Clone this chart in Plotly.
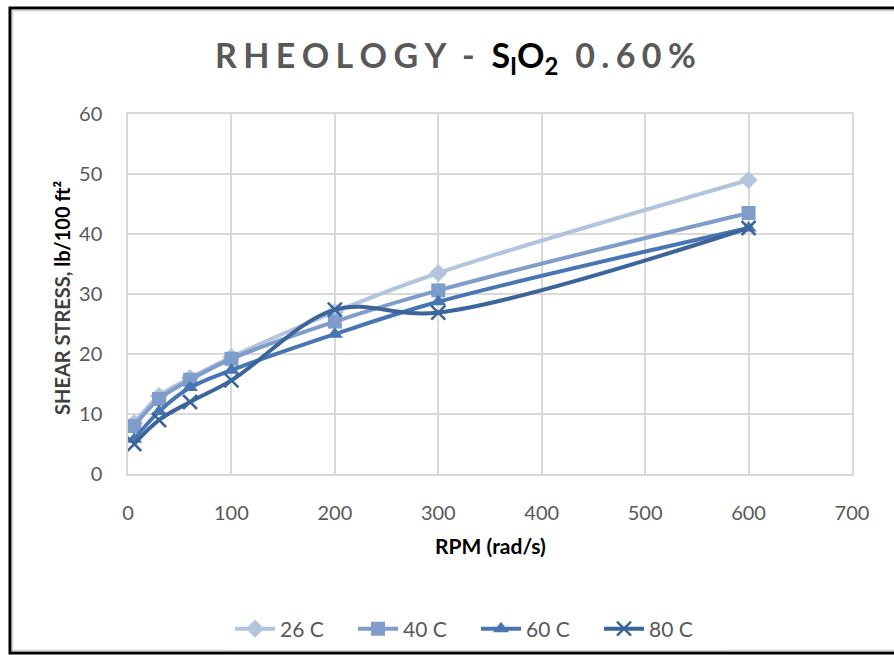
import plotly.graph_objects as go

rpm = [6, 30, 60, 100, 200, 300, 600]
s26 = [8.5, 13, 16, 19.5, 27, 33.5, 49]
s40 = [8, 12.5, 15.7, 19.2, 25.4, 30.6, 43.5]
s60 = [5.8, 10.4, 14.4, 17.3, 23.3, 28.7, 41]
s80 = [5, 9, 12, 15.6, 27.4, 26.9, 41]
names = ["26 C", "40 C", "60 C", "80 C"]
colors = ["#b4c4df", "#7f9dcb", "#4876b4", "#3b659b"]
symbols = ["diamond", "square", "triangle-up", "x-thin"]

W, H = 894, 655
L, R, T, B = 128, 42, 114, 181
pw, ph = W - L - R, H - T - B

def px2x(px):
    return (px - L) / pw

def py2y(py):
    return (H - B - py) / ph

fig = go.Figure()
for nm, ys, c, s in zip(names, [s26, s40, s60, s80], colors, symbols):
    mk = dict(symbol=s, size=14, color=c)
    if s == "x-thin":
        mk = dict(symbol=s, size=14, color=c, line=dict(color=c, width=2.5))
    fig.add_trace(go.Scatter(x=rpm, y=ys, name=nm, mode="lines+markers",
                             line=dict(color=c, width=4, shape="spline", smoothing=1.0),
                             marker=mk))

grid = "#d9d9d9"
font = "Lato, 'Open Sans', sans-serif"
fig.update_layout(
    width=W, height=H,
    margin=dict(l=L, r=R, t=T, b=B, autoexpand=False),
    paper_bgcolor="white", plot_bgcolor="white",
    font=dict(family=font, color="#595959"),
    showlegend=True,
    legend=dict(orientation="h", x=px2x(230), xanchor="left", y=py2y(629), yanchor="middle",
                font=dict(size=21, color="#595959"), tracegroupgap=0,
                entrywidth=68, entrywidthmode="pixels", itemwidth=40),
    xaxis=dict(range=[0, 700], dtick=100, showgrid=True, gridcolor=grid, gridwidth=1.5,
               showline=True, linecolor=grid, linewidth=1.5, mirror=True, zeroline=False,
               tickfont=dict(size=20, color="#595959"), ticklabelstandoff=20, ticks=""),
    yaxis=dict(range=[0, 60], dtick=10, showgrid=True, gridcolor=grid, gridwidth=1.5,
               showline=True, linecolor=grid, linewidth=1.5, mirror=True, zeroline=False,
               tickfont=dict(size=20, color="#595959"), ticklabelstandoff=20, ticks=""),
)

sp = "\u2009\u200a"
def spaced(s):
    return sp.join(s)

title = ("<b>" + spaced("RHEOLOGY") + " \u2009\u2009-\u2009\u2009 "
         + "<span style='color:#000000'>S<sub>I</sub>O<sub>2</sub></span>"
         + " \u2009\u2009" + spaced("0.60%") + "</b>")
fig.add_annotation(
    text=title,
    xref="paper", yref="paper", x=px2x(455), y=py2y(57), xanchor="center", yanchor="middle",
    showarrow=False, font=dict(size=34, color="#595959", family=font))
fig.add_annotation(
    text="<b>RPM (rad/s)</b>", xref="paper", yref="paper", x=px2x(490), y=py2y(545),
    xanchor="center", yanchor="middle", showarrow=False, font=dict(size=21, color="#000000", family=font))
fig.add_annotation(
    text="<b>SHEAR STRESS, <span style='color:#000000'>lb/100 ft²</span></b>", xref="paper", yref="paper",
    x=px2x(62), y=py2y(298), xanchor="center", yanchor="middle", textangle=-90, showarrow=False,
    font=dict(size=20, color="#404040", family=font))

fig.add_shape(type="rect", xref="paper", yref="paper",
              x0=px2x(10), x1=px2x(897), y0=py2y(653), y1=py2y(8),
              line=dict(color="black", width=3), layer="below")
fig.add_shape(type="rect", xref="paper", yref="paper",
              x0=px2x(12.5), x1=px2x(898), y0=py2y(650.5), y1=py2y(10.5),
              line=dict(color="#d0d0d0", width=1.5), layer="below")

fig.write_html("out.html")
